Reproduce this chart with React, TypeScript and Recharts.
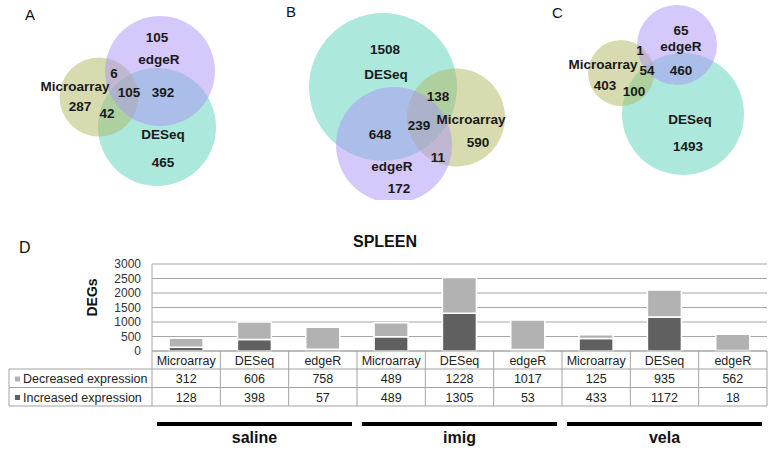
import React from 'react';
import { ScatterChart, Scatter, XAxis, YAxis, BarChart, Bar, CartesianGrid } from 'recharts';

// ---------------- Venn data (region counts) ----------------
const vennARegions = ['edgeR only', 'Microarray∩edgeR', 'all three', 'edgeR∩DESeq', 'Microarray only', 'Microarray∩DESeq', 'DESeq only'];
const vennACounts = [105, 6, 105, 392, 287, 42, 465];

const vennBRegions = ['DESeq only', 'DESeq∩Microarray', 'all three', 'DESeq∩edgeR', 'Microarray only', 'edgeR∩Microarray', 'edgeR only'];
const vennBCounts = [1508, 138, 239, 648, 590, 11, 172];

const vennCRegions = ['edgeR only', 'Microarray∩edgeR', 'all three', 'edgeR∩DESeq', 'Microarray only', 'Microarray∩DESeq', 'DESeq only'];
const vennCCounts = [65, 1, 54, 460, 403, 100, 1493];

const setNames = ['DESeq', 'Microarray', 'edgeR'];

// ---------------- Venn layout (panel units) ----------------
const vennACircles = [[157, 127, 59], [99, 97, 39.5], [160, 71, 55]];
const vennACountPos = [[157, 37], [114, 73], [129, 92], [163, 92], [80, 106], [107, 113], [163, 162]];
const vennANamePos = [[163, 134], [75, 86], [159, 59]];

const vennBCircles = [[123, 87, 74], [196, 117.5, 49], [134, 145, 58]];
const vennBCountPos = [[125, 49], [178, 96], [159, 125], [120, 134], [218, 142], [178, 157], [139, 188]];
const vennBNamePos = [[126, 74], [211, 119], [132, 166]];

const vennCCircles = [[163, 114, 61], [101, 73, 33], [157, 45, 40]];
const vennCCountPos = [[161, 30], [120, 50], [127, 70], [161, 70], [85, 85], [114, 91], [168, 146]];
const vennCNamePos = [[170, 119], [83, 64], [161, 46]];

// ---------------- Bar chart data ----------------
const categories = ['Microarray', 'DESeq', 'edgeR', 'Microarray', 'DESeq', 'edgeR', 'Microarray', 'DESeq', 'edgeR'];
const groups = ['saline', 'imig', 'vela'];
const decreased = [312, 606, 758, 489, 1228, 1017, 125, 935, 562];
const increased = [128, 398, 57, 489, 1305, 53, 433, 1172, 18];
const yTicks = [0, 500, 1000, 1500, 2000, 2500, 3000];
const seriesNames = ['Decreased expression', 'Increased expression'];

// ---------------- Styles ----------------
const FONT = 'Liberation Sans, Arial, sans-serif';
const circleStyle: Record<string, { fill: string; opacity: number }> = {
  DESeq: { fill: '#ace8dc', opacity: 1 },
  Microarray: { fill: '#b0b860', opacity: 0.5 },
  edgeR: { fill: '#a994f5', opacity: 0.5 },
};
const DEC_COLOR = '#b2b2b2';
const INC_COLOR = '#606060';
const GRID = '#a6a6a6';
const TABLE = '#a3a3a3';

// chart layout
const BAR_TOP = 200;
const BAR_H = 253;
const MARGIN = { top: 64, right: 5, bottom: 0, left: 92 };
const YAXIS_W = 60;
const PLOT_W = 772 - MARGIN.left - MARGIN.right - YAXIS_W;
const BAND = PLOT_W / categories.length;
const LEGEND_LEFT = 9;
const ROW_Y = [0, 18, 36.5, 55];

function buildVenn(circles: number[][], countPos: number[][], counts: number[], namePos: number[][]) {
  const circ = circles.map((c, i) => ({ x: c[0], y: c[1], r: c[2], set: setNames[i] }));
  const labels = [
    ...counts.map((v, i) => ({ x: countPos[i][0], y: countPos[i][1], text: String(v) })),
    ...setNames.map((n, i) => ({ x: namePos[i][0], y: namePos[i][1], text: n })),
  ];
  return { circ, labels };
}

const CircleShape = (p: any) => {
  const st = circleStyle[p.payload.set];
  return <circle cx={p.cx} cy={p.cy} r={p.payload.r} fill={st.fill} fillOpacity={st.opacity} stroke="none" />;
};

const TextShape = (p: any) => (
  <text
    x={p.cx}
    y={p.cy}
    textAnchor="middle"
    dominantBaseline="central"
    fontFamily={FONT}
    fontWeight="bold"
    fontSize={13.5}
    fill="#1a1a1a"
  >
    {p.payload.text}
  </text>
);

function Venn({ left, width, circles, countPos, counts, namePos }: any) {
  const { circ, labels } = buildVenn(circles, countPos, counts, namePos);
  return (
    <div style={{ position: 'absolute', left, top: 0 }}>
      <ScatterChart width={width} height={200} margin={{ top: 0, right: 0, bottom: 0, left: 0 }}>
        <XAxis type="number" dataKey="x" domain={[0, width]} hide />
        <YAxis type="number" dataKey="y" domain={[0, 200]} reversed hide />
        <Scatter data={circ} shape={CircleShape} isAnimationActive={false} />
        <Scatter data={labels} shape={TextShape} isAnimationActive={false} />
      </ScatterChart>
    </div>
  );
}

const barData = categories.map((c, i) => ({
  idx: i,
  category: c,
  decreased: decreased[i],
  increased: increased[i],
}));

const TableTick = (props: any) => {
  const { x, y, payload } = props;
  const i = payload && typeof payload.index === 'number' ? payload.index : props.index;
  const half = BAND / 2;
  const l = x - half;
  const r = x + half;
  const txt = { fontFamily: FONT, fontSize: 12.5, fill: '#222', textAnchor: 'middle' as const };
  const els: any[] = [];
  els.push(<line key="vl" x1={l} x2={l} y1={y} y2={y + ROW_Y[3]} stroke={TABLE} />);
  if (i === categories.length - 1) {
    els.push(<line key="vr" x1={r} x2={r} y1={y} y2={y + ROW_Y[3]} stroke={TABLE} />);
  }
  for (let k = 1; k <= 3; k++) {
    els.push(<line key={'h' + k} x1={l} x2={r} y1={y + ROW_Y[k]} y2={y + ROW_Y[k]} stroke={TABLE} />);
  }
  els.push(<text key="c" x={x} y={y + 14} {...txt}>{categories[i]}</text>);
  els.push(<text key="d" x={x} y={y + 32} {...txt}>{decreased[i]}</text>);
  els.push(<text key="n" x={x} y={y + 50.5} {...txt}>{increased[i]}</text>);
  if (i === 0) {
    els.push(<line key="ll" x1={LEGEND_LEFT} x2={LEGEND_LEFT} y1={y + ROW_Y[1]} y2={y + ROW_Y[3]} stroke={TABLE} />);
    for (let k = 1; k <= 3; k++) {
      els.push(<line key={'lh' + k} x1={LEGEND_LEFT} x2={l} y1={y + ROW_Y[k]} y2={y + ROW_Y[k]} stroke={TABLE} />);
    }
    els.push(<rect key="sq1" x={LEGEND_LEFT + 6} y={y + 25.5} width={5} height={5} fill={DEC_COLOR} />);
    els.push(<rect key="sq2" x={LEGEND_LEFT + 6} y={y + 44} width={5} height={5} fill={INC_COLOR} />);
    els.push(
      <text key="lt1" x={LEGEND_LEFT + 14} y={y + 32} fontFamily={FONT} fontSize={12.5} fill="#222">
        {seriesNames[0]}
      </text>
    );
    els.push(
      <text key="lt2" x={LEGEND_LEFT + 14} y={y + 50.5} fontFamily={FONT} fontSize={12.5} fill="#222">
        {seriesNames[1]}
      </text>
    );
  }
  if (i % 3 === 1) {
    const g = groups[(i - 1) / 3];
    els.push(
      <line key="gl" x1={x - 1.5 * BAND + 5} x2={x + 1.5 * BAND - 5} y1={y + 73} y2={y + 73} stroke="#000" strokeWidth={4} />
    );
    els.push(
      <text key="gt" x={x} y={y + 92} textAnchor="middle" fontFamily={FONT} fontWeight="bold" fontSize={16} fill="#111">
        {g}
      </text>
    );
  }
  return <g>{els}</g>;
};

const DegLabel = (p: any) => {
  const vb = p.viewBox || { x: MARGIN.left, y: MARGIN.top, width: YAXIS_W, height: 87 };
  const cx = vb.x;
  const cy = vb.y + vb.height / 2 - 10;
  return (
    <text
      x={cx}
      y={cy}
      transform={`rotate(-90 ${cx} ${cy})`}
      textAnchor="middle"
      dominantBaseline="central"
      fontFamily={FONT}
      fontWeight="bold"
      fontSize={14}
      fill="#111"
    >
      DEGs
    </text>
  );
};

export default function App() {
  return (
    <div
      style={{
        position: 'absolute',
        left: 0,
        top: 0,
        width: 772,
        height: 453,
        background: '#fff',
        overflow: 'hidden',
        fontFamily: FONT,
      }}
    >
      <Venn left={0} width={260} circles={vennACircles} countPos={vennACountPos} counts={vennACounts} namePos={vennANamePos} />
      <Venn left={260} width={260} circles={vennBCircles} countPos={vennBCountPos} counts={vennBCounts} namePos={vennBNamePos} />
      <Venn left={520} width={252} circles={vennCCircles} countPos={vennCCountPos} counts={vennCCounts} namePos={vennCNamePos} />

      <div style={{ position: 'absolute', left: 0, top: BAR_TOP }}>
        <BarChart width={772} height={BAR_H} data={barData} margin={MARGIN} barCategoryGap="25%">
          <CartesianGrid horizontal vertical={false} stroke={GRID} />
          <XAxis
            dataKey="idx"
            height={102}
            interval={0}
            tickLine={false}
            tickSize={0}
            tickMargin={0}
            axisLine={{ stroke: TABLE }}
            tick={TableTick}
          />
          <YAxis
            width={YAXIS_W}
            domain={[0, 3000]}
            ticks={yTicks}
            interval={0}
            tickLine={false}
            tickMargin={5}
            axisLine={{ stroke: GRID }}
            tick={{ fontSize: 12, fill: '#333', fontFamily: FONT }}
            label={{ content: DegLabel }}
          />
          <Bar dataKey="increased" stackId="a" fill={INC_COLOR} stroke="#fff" strokeWidth={1.5} isAnimationActive={false} />
          <Bar dataKey="decreased" stackId="a" fill={DEC_COLOR} stroke="#fff" strokeWidth={1.5} isAnimationActive={false} />
        </BarChart>
      </div>

      <svg width={772} height={453} style={{ position: 'absolute', left: 0, top: 0, pointerEvents: 'none' }}>
        <text x={25} y={20} fontFamily={FONT} fontSize={15} fill="#111">A</text>
        <text x={286} y={17} fontFamily={FONT} fontSize={15} fill="#111">B</text>
        <text x={552} y={18} fontFamily={FONT} fontSize={15} fill="#111">C</text>
        <text x={19} y={253} fontFamily={FONT} fontSize={16} fill="#111">D</text>
        <text x={385} y={247} textAnchor="middle" fontFamily={FONT} fontWeight="bold" fontSize={16} fill="#111">SPLEEN</text>
      </svg>
    </div>
  );
}
